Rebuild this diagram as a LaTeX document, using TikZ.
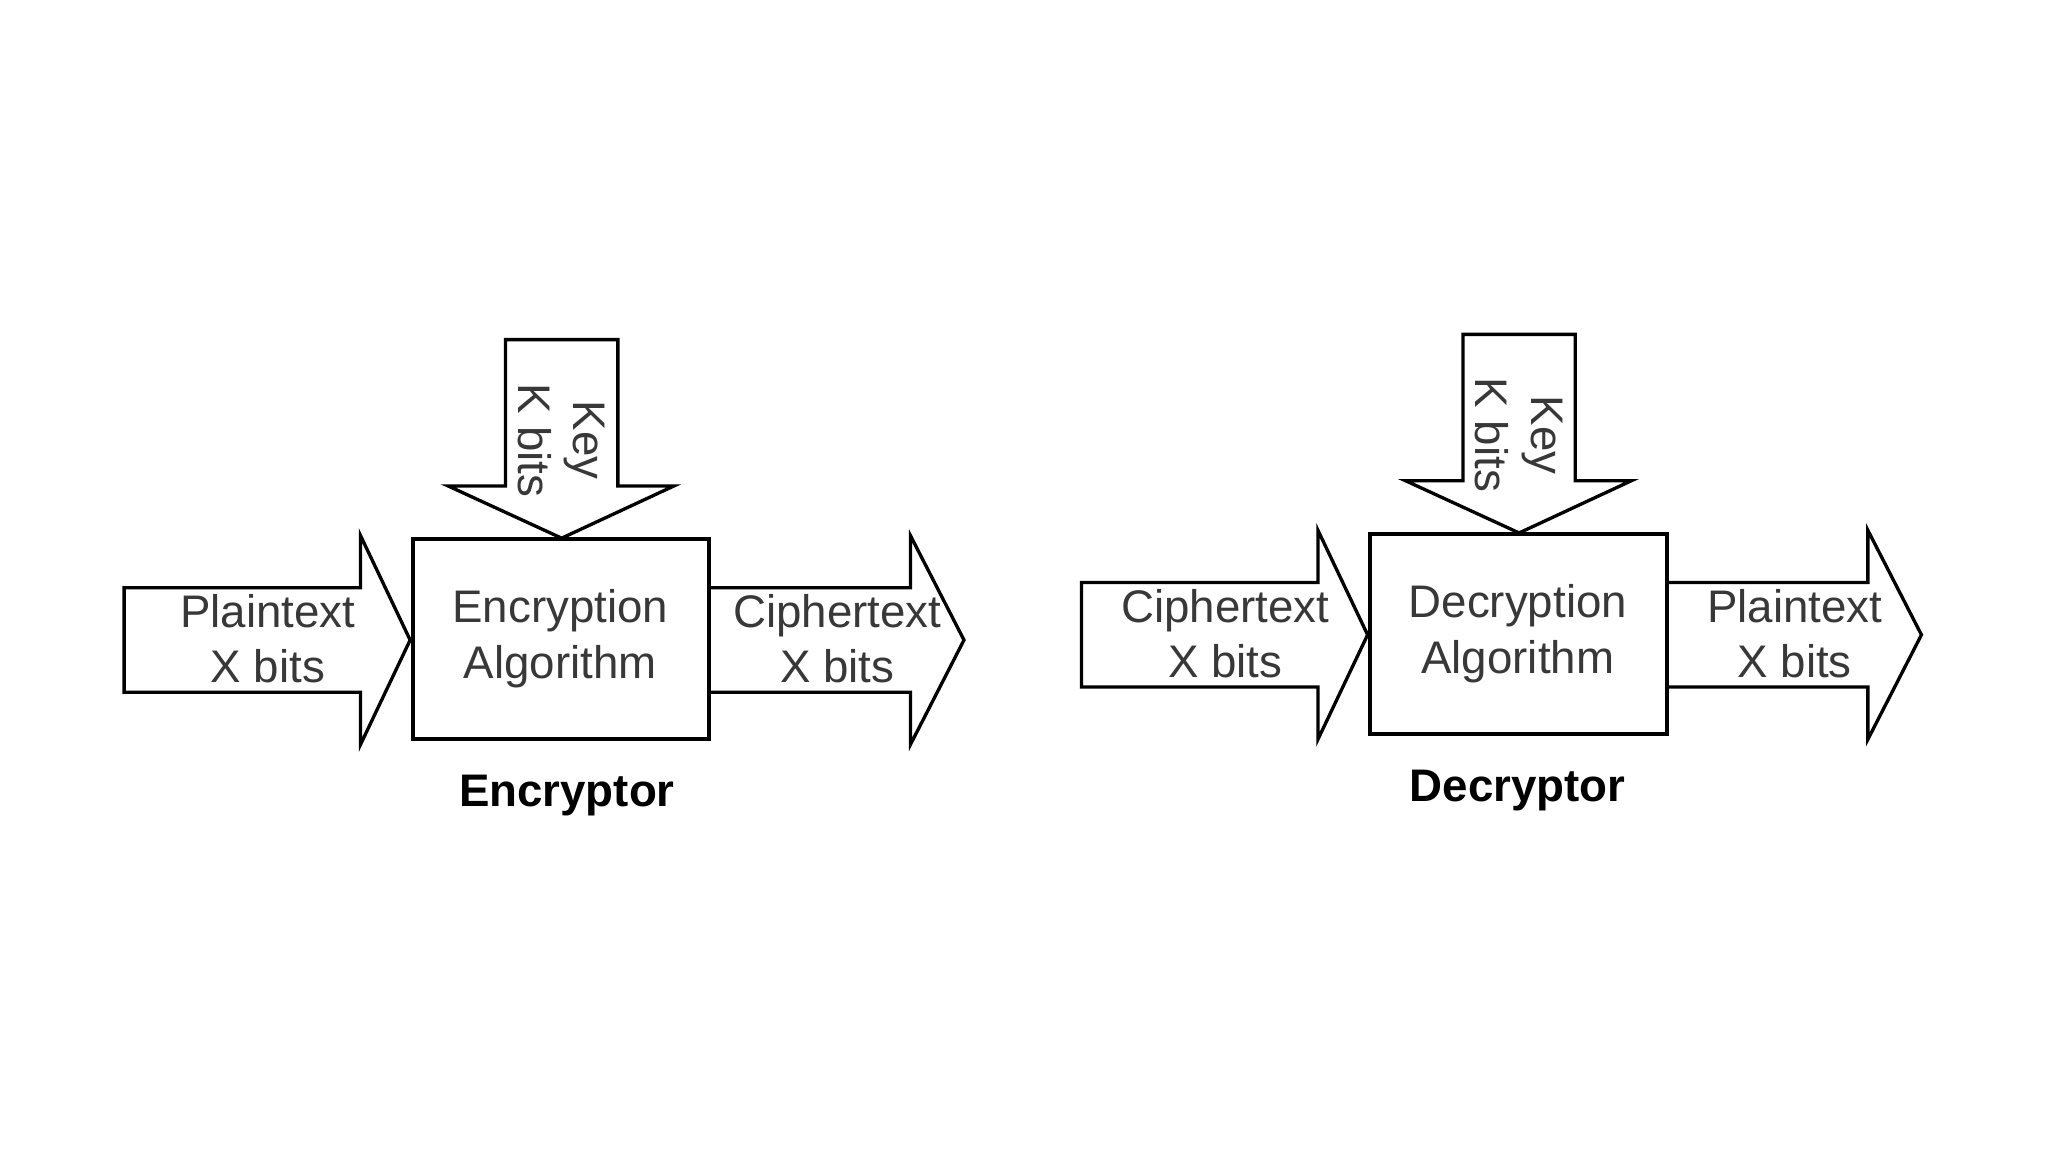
\documentclass[tikz,border=0pt]{standalone}
\usepackage{fontspec}
\setmainfont{Liberation Sans}
\begin{document}
\begin{tikzpicture}[x=0.013062in,y=-0.013062in,
  fatarrow/.style={draw=black,line width=2.4pt,line join=miter,fill=white},
  lbl/.style={text=black!78,align=center,font=\fontsize{33}{40}\selectfont},
  ttl/.style={text=black,font=\fontsize{33}{40}\selectfont\bfseries}]
\useasboundingbox (0,0) rectangle (1567.9,882);
% ---------- Encryptor ----------
\draw[fatarrow] (95,450) -- (276,450) -- (276,410) -- (314,490) -- (276,570) -- (276,530) -- (95,530) -- cycle;
\draw[fatarrow] (387,260) -- (473,260) -- (473,372) -- (516,372) -- (430,412) -- (343,372) -- (387,372) -- cycle;
\draw[fatarrow,fill=none] (543,450) -- (697,450) -- (697,410) -- (738,490) -- (697,570) -- (697,530) -- (543,530);
\draw[line width=2.9pt,fill=white] (316,413) rectangle (543,566);
\node[inner sep=0pt] (encbox) at (429.5,489.5) {};
\node[lbl] (encin) at (205,489) {Plaintext\\X bits};
\node[lbl] (encalg) at (429,489) {Encryption\\Algorithm};
\node[lbl] (encout) at (641,489) {Ciphertext\\X bits};
\node[lbl,rotate=-90] (enckey) at (430,337) {Key\\K bits};
\node[ttl] (enctitle) at (434,609) {Encryptor};
% ---------- Decryptor ----------
\begin{scope}[shift={(733,-4)}]
\draw[fatarrow] (95,450) -- (276,450) -- (276,410) -- (314,490) -- (276,570) -- (276,530) -- (95,530) -- cycle;
\draw[fatarrow] (387,260) -- (473,260) -- (473,372) -- (516,372) -- (430,412) -- (343,372) -- (387,372) -- cycle;
\draw[fatarrow,fill=none] (543,450) -- (697,450) -- (697,410) -- (738,490) -- (697,570) -- (697,530) -- (543,530);
\draw[line width=2.9pt,fill=white] (316,413) rectangle (543,566);
\node[inner sep=0pt] (decbox) at (429.5,489.5) {};
\node[lbl] (decin) at (205,489) {Ciphertext\\X bits};
\node[lbl] (decalg) at (429,489) {Decryption\\Algorithm};
\node[lbl] (decout) at (641,489) {Plaintext\\X bits};
\node[lbl,rotate=-90] (deckey) at (430,337) {Key\\K bits};
\node[ttl] (dectitle) at (429,609) {Decryptor};
\end{scope}
\end{tikzpicture}
\end{document}
